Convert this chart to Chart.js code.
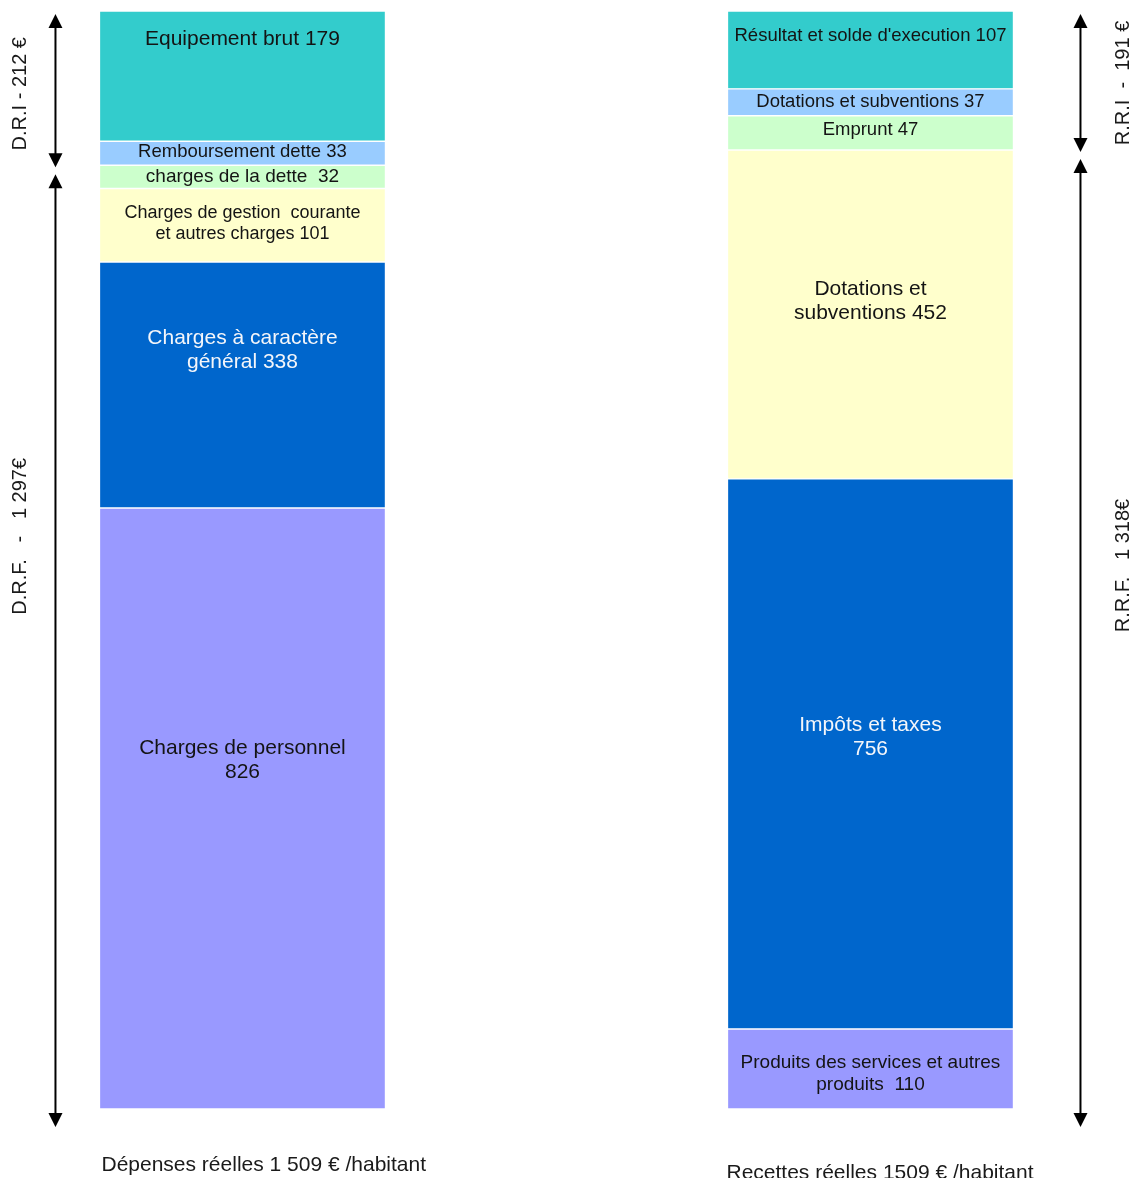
<!DOCTYPE html>
<html lang="fr">
<head>
<meta charset="utf-8">
<title>Dépenses et recettes réelles par habitant</title>
<script src="https://cdn.jsdelivr.net/npm/chart.js@4/dist/chart.umd.min.js"></script>
<style>
  html, body { margin: 0; padding: 0; background: #ffffff; }
  #wrap { position: relative; width: 1137px; height: 1178px; }
</style>
</head>
<body>
<div id="wrap"><canvas id="chart"></canvas></div>
<script>
// Two stacked columns: real expenses and real revenues, in € per inhabitant.
const categories = ['Dépenses réelles 1 509 € /habitant', 'Recettes réelles 1509 € /habitant'];

// Segments from bottom to top ('\n' marks a line break before the value)
const depensesNames = [
  'Charges de personnel\n',
  'Charges à caractère\ngénéral',
  'Charges de gestion  courante\net autres charges',
  'charges de la dette  ',
  'Remboursement dette',
  'Equipement brut'
];
const depensesValues = [826, 338, 101, 32, 33, 179];

const recettesNames = [
  'Produits des services et autres\nproduits  ',
  'Impôts et taxes\n',
  'Dotations et\nsubventions',
  'Emprunt',
  'Dotations et subventions',
  "Résultat et solde d'execution"
];
const recettesValues = [110, 756, 452, 47, 37, 107];

// Investment / operating brackets beside each column
const groupBars = [0, 0, 1, 1];
const groupLevels = [[4, 5], [0, 3], [3, 5], [0, 2]];
const groupPrefix = ['D.R.I - ', 'D.R.F.   -   ', 'R.R.I  -  ', 'R.R.F.   '];
const groupSuffix = [' €', '€', ' €', '€'];

// ---- styling ----
const levelColors = ['#9999FF', '#0066CC', '#FFFFCC', '#CCFFCC', '#99CCFF', '#33CCCC'];
const levelTextColors = ['#141414', '#f4f6fa', '#141414', '#141414', '#141414', '#141414'];
const labelAnchor = [
  [0.42, 0.36, 0.47, 0.48, 0.45, 0.22],
  [0.56, 0.47, 0.46, 0.42, 0.5, 0.32]
];
const labelSize = [
  [21, 21, 18, 19, 18.5, 21],
  [19, 21, 21, 18.5, 18.5, 18.5]
];
const groupTextAnchor = [0.52, 0.38, 0.5, 0.42];
const FONT = '"Liberation Sans", Arial, sans-serif';

const names = [depensesNames, recettesNames];
const values = [depensesValues, recettesValues];

function fmt(n) {
  return String(n).replace(/\B(?=(\d{3})+(?!\d))/g, ' ');
}
function segLabel(bar, lvl) {
  const n = names[bar][lvl];
  const v = values[bar][lvl];
  return (n.endsWith('\n') || n.endsWith(' ') ? n : n + ' ') + v;
}

const datasets = levelColors.map((c, lvl) => ({
  label: 'niveau ' + (lvl + 1),
  data: [
    { x: 0, y: depensesValues[lvl] },
    { x: 1, y: recettesValues[lvl] }
  ],
  backgroundColor: c,
  borderColor: '#ffffff',
  borderWidth: 1,
  borderSkipped: false,
  barThickness: 286
}));

const annotate = {
  id: 'annotate',
  afterDatasetsDraw(chart) {
    const ctx = chart.ctx;
    const xs = chart.scales.x;
    const ys = chart.scales.y;
    const half = 143;

    // segment labels
    for (let lvl = 0; lvl < levelColors.length; lvl++) {
      const meta = chart.getDatasetMeta(lvl);
      meta.data.forEach((el, bar) => {
        const top = Math.min(el.y, el.base);
        const h = Math.abs(el.base - el.y);
        const lines = segLabel(bar, lvl).split('\n');
        const size = labelSize[bar][lvl];
        const lh = size + 3;
        const cy = top + h * labelAnchor[bar][lvl];
        ctx.save();
        ctx.font = size + 'px ' + FONT;
        ctx.fillStyle = levelTextColors[lvl];
        ctx.textAlign = 'center';
        ctx.textBaseline = 'middle';
        lines.forEach((ln, i) => {
          const y = cy + (i - (lines.length - 1) / 2) * lh;
          ctx.fillText(ln.replace(/^\s+/, ''), el.x, y);
        });
        ctx.restore();
      });
    }

    // brackets with arrowheads
    function head(x, y, dir) {
      ctx.beginPath();
      ctx.moveTo(x, y);
      ctx.lineTo(x - 7, y - dir * 14);
      ctx.lineTo(x + 7, y - dir * 14);
      ctx.closePath();
      ctx.fill();
    }
    groupBars.forEach((bar, g) => {
      const [lo, hi] = groupLevels[g];
      const vals = values[bar];
      let below = 0;
      for (let i = 0; i < lo; i++) below += vals[i];
      let total = 0;
      for (let i = lo; i <= hi; i++) total += vals[i];
      const yBottom = ys.getPixelForValue(below);
      const yTop = ys.getPixelForValue(below + total);
      const isBase = lo === 0;
      const y1 = isBase ? yTop + 9 : yTop + 3;
      const y2 = isBase ? yBottom + 18 : yBottom + 2;
      const cx = xs.getPixelForValue(bar);
      const ax = bar === 0 ? cx - half - 44 : cx + half + 67;
      const tx = bar === 0 ? cx - half - 79 : cx + half + 110;

      ctx.save();
      ctx.strokeStyle = '#000';
      ctx.fillStyle = '#000';
      ctx.lineWidth = 2;
      ctx.beginPath();
      ctx.moveTo(ax, y1 + 10);
      ctx.lineTo(ax, y2 - 10);
      ctx.stroke();
      head(ax, y1, -1);
      head(ax, y2, 1);

      const ty = y1 + (y2 - y1) * groupTextAnchor[g];
      ctx.translate(tx, ty);
      ctx.rotate(-Math.PI / 2);
      ctx.font = '20px ' + FONT;
      ctx.fillStyle = '#1a1a1a';
      ctx.textAlign = 'center';
      ctx.textBaseline = 'middle';
      ctx.fillText(groupPrefix[g] + fmt(total) + groupSuffix[g], 0, 0);
      ctx.restore();
    });

    // column captions
    const captionDy = [56, 64];
    categories.forEach((txt, bar) => {
      const cx = xs.getPixelForValue(bar);
      ctx.save();
      ctx.font = '21px ' + FONT;
      ctx.fillStyle = '#1a1a1a';
      ctx.textAlign = 'left';
      ctx.textBaseline = 'middle';
      ctx.fillText(txt, cx - half + 2 - (bar === 1 ? 3 : 0), ys.getPixelForValue(0) + captionDy[bar]);
      ctx.restore();
    });
  }
};

new Chart(document.getElementById('chart'), {
  type: 'bar',
  data: { datasets },
  options: {
    responsive: true,
    maintainAspectRatio: false,
    animation: false,
    layout: { padding: { top: 11, bottom: 69, left: 0, right: 0 } },
    plugins: {
      legend: { display: false },
      tooltip: { enabled: false }
    },
    scales: {
      x: {
        type: 'linear',
        stacked: true,
        display: false,
        offset: false,
        min: -0.3861,
        max: 1.4244
      },
      y: {
        stacked: true,
        display: false,
        min: 0,
        max: 1509
      }
    }
  },
  plugins: [annotate]
});
</script>
</body>
</html>
